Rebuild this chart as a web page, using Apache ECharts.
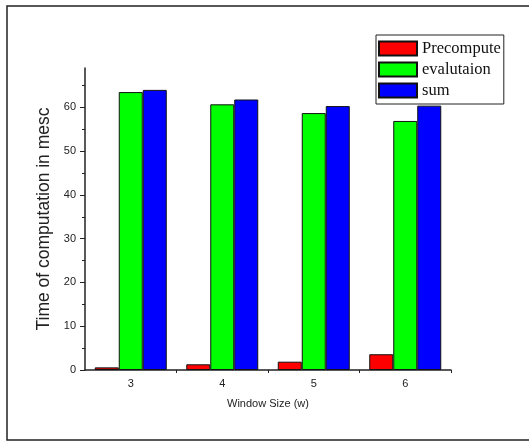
<!DOCTYPE html>
<html>
<head>
<meta charset="utf-8">
<script src="https://cdn.jsdelivr.net/npm/echarts@6/dist/echarts.min.js"></script>
<style>
  html, body { margin: 0; padding: 0; background: #fff; }
  #main { width: 529px; height: 441px; }
</style>
</head>
<body>
<div id="main"></div>
<script>
var myChart = echarts.init(document.getElementById('main'));

// window sizes on the x axis
var windowSizes = ['3', '4', '5', '6'];
// times (msec)
var precompute = [0.6, 1.3, 1.9, 3.6];
var evalutaion = [63.5, 60.7, 58.7, 56.9];
var sumTimes = [64.0, 61.8, 60.3, 60.4];
var yLabels = [0, 10, 20, 30, 40, 50, 60];
var yMinor = [5, 15, 25, 35, 45, 55, 65];
var xBounds = [1, 2, 3, 4];

var barBorder = { borderColor: '#111', borderWidth: 1 };

option = {
    animation: false,
    graphic: [{
        type: 'rect',
        shape: { x: 7, y: 6, width: 540, height: 434 },
        style: { fill: 'none', stroke: '#222', lineWidth: 1.5 }
    }],
    legend: {
        orient: 'vertical',
        left: 376,
        top: 35,
        padding: [5, 3, 5, 2],
        borderColor: '#222',
        borderWidth: 1,
        icon: 'rect',
        itemWidth: 38,
        itemHeight: 14,
        itemGap: 4,
        textStyle: {
            fontFamily: 'Liberation Serif',
            fontSize: 16.5,
            color: '#111'
        },
        data: ['Precompute', 'evalutaion', 'sum']
    },
    grid: {
        left: 85,
        right: 78,
        top: 68,
        bottom: 71
    },
    xAxis: [{
        type: 'category',
        data: windowSizes,
        name: 'Window Size (w)',
        nameLocation: 'middle',
        nameGap: 28,
        nameTextStyle: { fontFamily: 'Liberation Sans', fontSize: 11, color: '#222' },
        axisLine: { lineStyle: { color: '#222', width: 1.5 } },
        axisTick: { alignWithLabel: true, length: 4, lineStyle: { color: '#222' } },
        axisLabel: { fontFamily: 'Liberation Sans', fontSize: 11, color: '#222', margin: 8 }
    }, {
        type: 'value',
        position: 'bottom',
        min: 0,
        max: 4,
        axisLine: { show: false },
        axisTick: { show: true, length: 3, customValues: xBounds, lineStyle: { color: '#222' } },
        axisLabel: { show: false },
        splitLine: { show: false }
    }],
    yAxis: [{
        type: 'value',
        min: 0,
        max: 69,
        name: 'Time of computation in mesc',
        nameLocation: 'middle',
        nameGap: 31,
        nameTextStyle: { fontFamily: 'Liberation Sans', fontSize: 17.5, color: '#222' },
        axisLine: { show: true, lineStyle: { color: '#222', width: 1.5 } },
        axisTick: { show: true, length: 5, customValues: yLabels, lineStyle: { color: '#222' } },
        axisLabel: { customValues: yLabels, fontFamily: 'Liberation Sans', fontSize: 11, color: '#222', margin: 9 },
        splitLine: { show: false }
    }, {
        type: 'value',
        position: 'left',
        min: 0,
        max: 69,
        axisLine: { show: false },
        axisTick: { show: true, length: 3, customValues: yMinor, lineStyle: { color: '#222' } },
        axisLabel: { show: false },
        splitLine: { show: false }
    }],
    series: [{
        name: 'Precompute',
        type: 'bar',
        barWidth: 24,
        barGap: '0%',
        itemStyle: Object.assign({ color: '#ff0000' }, barBorder),
        data: precompute
    }, {
        name: 'evalutaion',
        type: 'bar',
        barWidth: 24,
        barGap: '0%',
        itemStyle: Object.assign({ color: '#00ff00' }, barBorder),
        data: evalutaion
    }, {
        name: 'sum',
        type: 'bar',
        barWidth: 24,
        barGap: '0%',
        itemStyle: Object.assign({ color: '#0000ff' }, barBorder),
        data: sumTimes
    }]
};

myChart.setOption(option);
</script>
</body>
</html>
